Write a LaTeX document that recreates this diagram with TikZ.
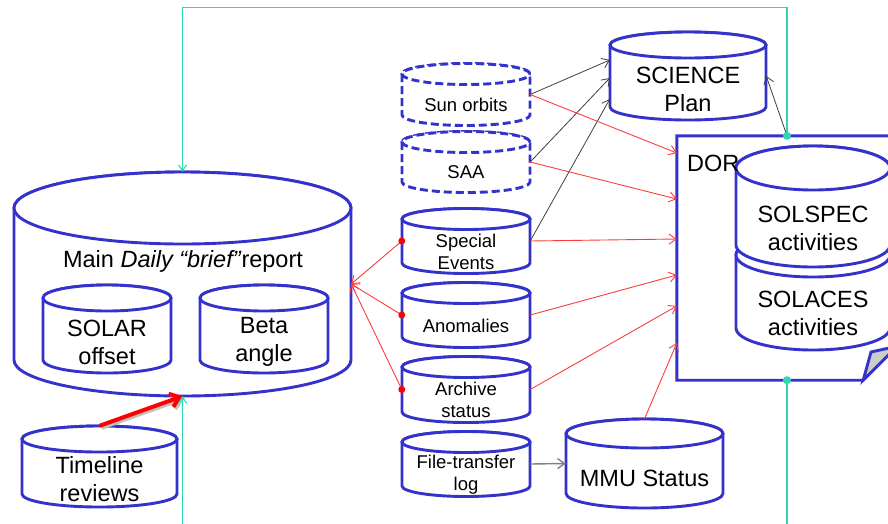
\documentclass[tikz,border=0pt]{standalone}
\usepackage{fontspec}
\setmainfont{Liberation Sans}
\usetikzlibrary{positioning,arrows.meta}

\definecolor{dbblue}{RGB}{51,51,204}
\definecolor{linkred}{RGB}{255,60,60}
\definecolor{loopgreen}{RGB}{45,215,175}

\tikzset{
  dbline/.style={draw=dbblue, line width=2.9pt, fill=white},
  dbdash/.style={dash pattern=on 8pt off 4pt},
  bigtxt/.style={font=\fontsize{23.5}{28}\selectfont, align=center},
  smalltxt/.style={font=\fontsize{18.5}{22}\selectfont, align=center},
  redlink/.style={draw=linkred, line width=0.9pt, -{Straight Barb[length=7pt,width=10pt]}},
  blacklink/.style={draw=black!75, line width=0.8pt, -{Straight Barb[length=7pt,width=10pt]}},
  looplink/.style={draw=loopgreen, line width=1.1pt},
}

% cylinder: [line style]{name}{cx}{y top}{y bottom}{rx}{ry}{text style}{text}
\newcommand{\dbcyl}[9][]{%
  \draw[dbline,#1] ({#3-#6},#4) -- ({#3-#6},#5)
    arc[start angle=180,end angle=360,x radius=#6pt,y radius=#7pt]
    -- ({#3+#6},#4)
    arc[start angle=0,end angle=180,x radius=#6pt,y radius=#7pt] -- cycle;
  \draw[dbline,#1] (#3,#4) ellipse[x radius=#6pt,y radius=#7pt];
  \node[inner sep=0pt,minimum width={2*#6*1pt},minimum height={(#5-#4+2*#7)*1pt}] (#2) at (#3,{(#4+#5)/2}) {};
  \node[#8] at (#3,{(#4+#5)/2+#7}) {#9};
}

\begin{document}
\begin{tikzpicture}[x=1pt, y=-1pt]
\useasboundingbox (0,0) rectangle (888,523);
\clip (0,0) rectangle (888,523);

% main report
\dbcyl{main}{182.5}{208}{360}{168.5}{36}{}{}
\node[bigtxt, anchor=base] (maintxt) at (183,267) {Main \textit{Daily “brief”}report};
\dbcyl{solar}{107}{298}{360}{64}{13}{bigtxt}{SOLAR\\offset}
\dbcyl{beta}{264}{298}{360}{64}{13}{bigtxt}{Beta\\angle}
\dbcyl{tl}{99.5}{439}{494}{77.5}{13}{bigtxt}{Timeline\\reviews}

% inputs
\dbcyl[dbdash]{sun}{466}{74}{115}{64}{10.5}{smalltxt}{Sun orbits}
\dbcyl[dbdash]{saa}{466}{142}{182}{64}{10.5}{smalltxt}{SAA}
\dbcyl{spe}{466}{219}{263}{64}{10.5}{smalltxt}{Special\\Events}
\dbcyl{ano}{466}{293}{337}{64}{10.5}{smalltxt}{Anomalies}
\dbcyl{arc}{466}{367}{412}{64}{10.5}{smalltxt}{Archive\\status}
\dbcyl{ftl}{466}{442}{486}{64}{10.5}{smalltxt}{File-transfer\\log}
\dbcyl{mmu}{644.5}{433.5}{493.5}{78.5}{14.5}{bigtxt}{MMU Status}
\dbcyl{sci}{688}{45}{107}{78}{13}{bigtxt}{SCIENCE\\Plan}

% DOR note
\node[inner sep=0pt, minimum width=220pt, minimum height=244pt] (dor) at (787,258) {};
\draw[dbline] (dor.north west) -- (dor.north east) -- ([yshift=34pt]dor.south east)
  -- ([xshift=-34pt]dor.south east) -- (dor.south west) -- cycle;
\draw[dbline, fill=black!20] ([xshift=-34pt]dor.south east) -- (871,352) -- ([yshift=34pt]dor.south east) -- cycle;
\dbcyl{solaces}{813}{255}{328}{77}{22}{bigtxt}{SOLACES\\activities}
\dbcyl{solspec}{813}{168}{245}{77}{22}{bigtxt}{SOLSPEC\\activities}
\node[bigtxt, anchor=west, inner sep=0pt] (dortxt) at (687,163) {DOR};

% to science plan
\draw[blacklink] (sun.east) -- ([yshift=16pt]sci.west);
\draw[blacklink] (saa.east) -- ([yshift=-2pt]sci.west);
\draw[blacklink] (spe.east) -- ([yshift=-23pt]sci.west);
\draw[blacklink] (dor.north) -- (sci.east);

% to DOR
\draw[redlink] (sun.east) -- ([yshift=105pt]dor.west);
\draw[redlink] (saa.east) -- ([yshift=59pt]dor.west);
\draw[redlink] (spe.east) -- ([yshift=19pt]dor.west);
\draw[redlink] (ano.east) -- ([yshift=-17pt]dor.west);
\draw[redlink] (arc.east) -- ([yshift=-48pt]dor.west);
\draw[redlink] (mmu.north) -- ([yshift=-85pt]dor.west);

% to main report
\draw[redlink] (spe.west) -- (main.east);
\draw[redlink] (ano.west) -- (main.east);
\draw[redlink] (arc.west) -- (main.east);
\fill[red] (spe.west) circle (3.5pt);
\fill[red] (ano.west) circle (3.5pt);
\fill[red] (arc.west) circle (3.5pt);

\draw[draw=black!50, line width=1.4pt, -{Straight Barb[length=7pt,width=10pt]}] (ftl.east) -- (mmu.west);

% timeline feed
\draw[line width=4pt, black!25, -{Straight Barb[length=9pt,width=14pt]}] ([shift={(2pt,-2pt)}]tl.north) -- ([shift={(2pt,-2pt)}]main.south);
\draw[line width=4pt, red, -{Straight Barb[length=9pt,width=14pt]}] (tl.north) -- (main.south);

% loop
\coordinate (botr) at (787,530);
\draw[looplink, -{Straight Barb[length=6pt,width=8pt]}] (dor.north) -- ++(0,-128) -| (main.north);
\draw[looplink] (dor.south) -- (botr);
\draw[looplink, -{Straight Barb[length=6pt,width=8pt]}] (main.south |- botr) -- (main.south);
\fill[loopgreen] (dor.north) circle (4pt);
\fill[loopgreen] (dor.south) circle (4pt);
\end{tikzpicture}
\end{document}
